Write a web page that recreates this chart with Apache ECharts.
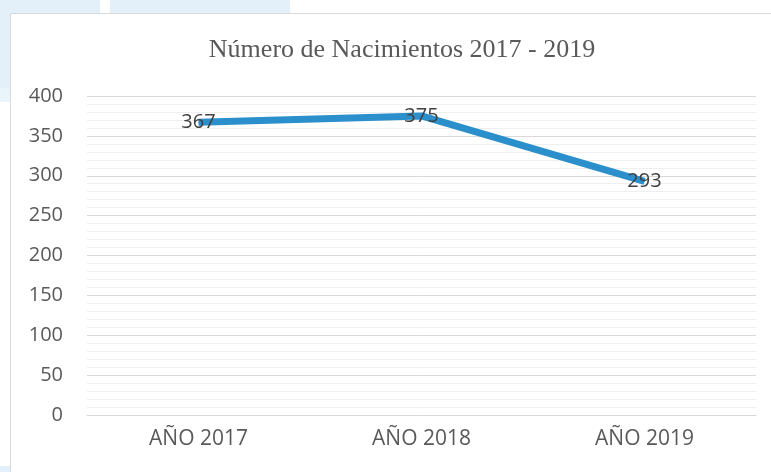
<!DOCTYPE html>
<html>
<head>
<meta charset="utf-8">
<script src="https://cdn.jsdelivr.net/npm/echarts@6/dist/echarts.min.js"></script>
<style>
  html, body { margin: 0; padding: 0; background: #fff; }
  #chart { width: 771px; height: 472px; }
</style>
</head>
<body>
<div id="chart"></div>
<script>
const titleText = 'Número de Nacimientos 2017 - 2019'
const categories = ['AÑO 2017', 'AÑO 2018', 'AÑO 2019']
const births = [367, 375, 293]

const textColor = '#595959'
const lineColor = '#2a8fcb'

const chart = echarts.init(document.getElementById('chart'))

chart.setOption({
  backgroundColor: '#fff',
  animation: false,
  graphic: [
    // page decoration behind the chart frame
    { type: 'rect', z: -10, shape: { x: 0, y: 0, width: 100, height: 88 }, style: { fill: '#e3f0f9' } },
    { type: 'rect', z: -10, shape: { x: 0, y: 88, width: 10, height: 14 }, style: { fill: '#eaf4fb' } },
    { type: 'rect', z: -10, shape: { x: 110, y: 0, width: 180, height: 13 }, style: { fill: '#e3f0f9' } },
    { type: 'rect', z: -10, shape: { x: 0, y: 466, width: 10, height: 6 }, style: { fill: '#e3f0f9' } },
    {
      type: 'rect',
      z: -9,
      shape: { x: 10.5, y: 13.5, width: 800, height: 500 },
      style: { fill: '#fff', stroke: '#d9d9d9', lineWidth: 1 }
    }
  ],
  title: {
    text: titleText,
    left: 397,
    top: 32,
    textAlign: 'center',
    textStyle: {
      fontFamily: 'Liberation Serif',
      fontSize: 26,
      fontWeight: 'normal',
      color: textColor
    }
  },
  grid: {
    left: 87,
    right: 15,
    top: 96,
    bottom: 57
  },
  xAxis: {
    type: 'category',
    data: categories,
    boundaryGap: true,
    axisLine: { lineStyle: { color: '#d9d9d9', width: 1 } },
    axisTick: { show: false },
    axisLabel: {
      margin: 14,
      fontFamily: 'Open Sans',
      fontSize: 21,
      color: textColor
    }
  },
  yAxis: {
    type: 'value',
    min: 0,
    max: 400,
    interval: 50,
    axisLine: { show: false },
    axisTick: { show: false },
    axisLabel: {
      margin: 24,
      fontFamily: 'Open Sans',
      fontSize: 20,
      color: textColor
    },
    splitLine: { lineStyle: { color: '#d9d9d9', width: 1 } },
    minorTick: { show: false, splitNumber: 5 },
    minorSplitLine: { show: true, lineStyle: { color: '#efefef', width: 1 } }
  },
  series: [{
    type: 'line',
    data: births,
    symbol: 'circle',
    symbolSize: 1,
    showSymbol: true,
    itemStyle: { color: lineColor },
    lineStyle: { color: lineColor, width: 7 },
    label: {
      show: true,
      position: 'inside',
      fontFamily: 'Open Sans',
      fontSize: 20,
      color: '#404040'
    }
  }]
})
</script>
</body>
</html>
